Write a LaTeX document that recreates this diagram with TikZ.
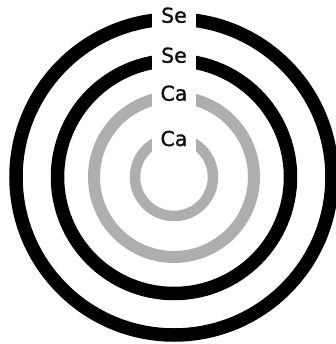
\documentclass[tikz,border=0pt]{standalone}
\usepackage{fontspec}
\setmainfont{DejaVu Sans}
\newfontfamily\labelfont[FakeBold=1.2]{DejaVu Sans}
\definecolor{ringgray}{RGB}{174,174,174}
\definecolor{labeltext}{RGB}{15,15,25}
\tikzset{
  blackring/.style={draw=black, line width=13.5bp},
  grayring/.style={draw=ringgray},
  shelllabel/.style={fill=white, inner sep=0pt, minimum width=44bp, minimum height=28bp,
    text height=14bp, text depth=0bp, text=labeltext, font=\labelfont\fontsize{20.5bp}{22bp}\selectfont}
}
\begin{document}
\begin{tikzpicture}[x=1bp, y=-1bp]
  \clip (0,0) rectangle (336,344);
  \fill[white] (0,0) rectangle (336,344);
  \coordinate (c) at (174,177);
  \draw[blackring] (c) circle[radius=158];
  \draw[blackring] (c) circle[radius=116.5];
  \draw[grayring, line width=12bp] (c) circle[radius=80];
  \draw[grayring, line width=10.5bp] (c) circle[radius=39];
  \node[shelllabel] (se1) at (174,15.7) {Se};
  \node[shelllabel] (se2) at (174,55.7) {Se};
  \node[shelllabel] (ca1) at (174,93.7) {Ca};
  \node[shelllabel] (ca2) at (174,139) {Ca};
\end{tikzpicture}
\end{document}
